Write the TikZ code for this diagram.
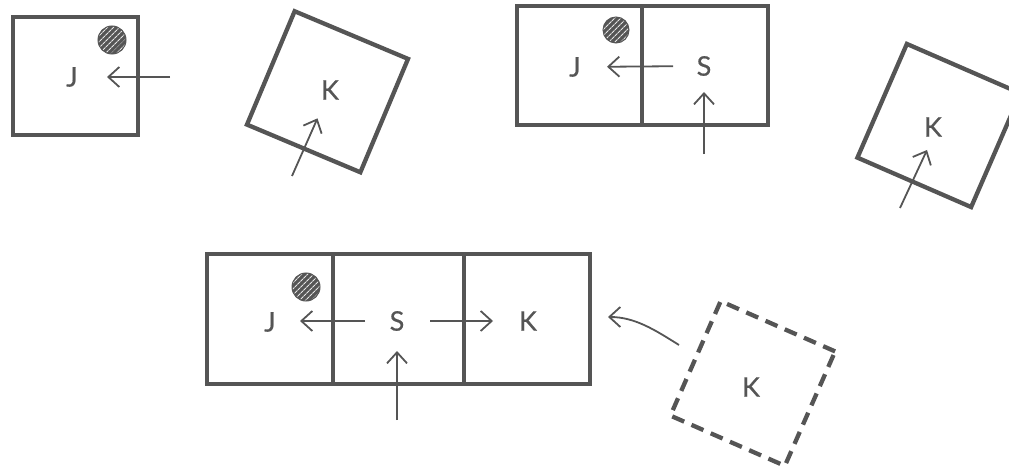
\documentclass[tikz,border=0pt]{standalone}
\usepackage{fontspec}
\setmainfont{Lato}[FakeBold=0.6]
\usetikzlibrary{arrows.meta,patterns.meta}
\definecolor{ink}{HTML}{555555}
\begin{document}
\begin{tikzpicture}[x=1pt,y=-1pt,
  box/.style={draw=ink, line width=4.3pt, inner sep=0pt, anchor=center, rectangle},
  dbox/.style={box, dash pattern=on 13pt off 8pt},
  lab/.style={text=ink, font=\fontsize{27}{27}\selectfont, inner sep=0pt, anchor=center},
  dot/.style={circle, draw=ink, line width=1pt, minimum size=#1, inner sep=0pt,
    preaction={fill=ink}, pattern={Lines[angle=45,distance=4pt,line width=1.1pt]},
    pattern color=white!85!ink},
  arr/.style={draw=ink, line width=1.8pt, -{Straight Barb[length=11pt,width=20pt,line width=1.8pt]}}
]
\useasboundingbox (0,0) rectangle (1009,476);

% ---- top left: J alone
\node[box, minimum width=125pt, minimum height=118pt] (tlbox) at (75.5,76) {};
\node[dot=28pt] (tldot) at (112,40) {};
\node[lab] (tlJ) at (72,77) {J};
\coordinate (tlin) at (170,77);
\draw[arr, shorten >=35pt] (tlin) -- (tlJ.center);

% ---- top: tilted K
\node[box, minimum size=123pt, rotate=-22.8] (k1box) at (327.5,91.75) {};
\node[lab] (k1K) at (330,90) {K};
\coordinate (k1in) at (292,176);
\draw[arr, shorten >=31pt] (k1in) -- (k1K.center);

% ---- top middle: J | S
\node[box, minimum width=125pt, minimum height=119pt] (tmJc) at (579.5,65.5) {};
\node[box, minimum width=126pt, minimum height=119pt] (tmSc) at (705,65.5) {};
\node[dot=26pt] (tmdot) at (616,30) {};
\node[lab] (tmJ) at (575,67) {J};
\node[lab] (tmS) at (704,66) {S};
\draw[arr, shorten <=31pt, shorten >=32pt] (tmS.center) -- (tmJ.center);
\coordinate (tmin) at (704,154);
\draw[arr, shorten >=26pt] (tmin) -- (tmS.center);

% ---- top right: tilted K
\node[box, minimum size=124pt, rotate=-23.5] (k2box) at (939,125.5) {};
\node[lab] (k2K) at (933,127) {K};
\coordinate (k2in) at (900,208);
\coordinate (k2tip) at (927,150);
\draw[arr] (k2in) -- (k2tip);

% ---- bottom: J | S | K
\node[box, minimum width=126pt, minimum height=130pt] (bJc) at (270,319) {};
\node[box, minimum width=131pt, minimum height=130pt] (bSc) at (398.5,319) {};
\node[box, minimum width=126pt, minimum height=130pt] (bKc) at (527,319) {};
\node[dot=28pt] (bdot) at (306,287) {};
\node[lab] (bJ) at (270,322) {J};
\node[lab] (bS) at (397,321) {S};
\node[lab] (bK) at (528,321) {K};
\draw[arr, shorten <=32pt, shorten >=30pt] (bS.center) -- (bJ.center |- bS.center);
\draw[arr, shorten <=33pt, shorten >=35pt] (bS.center) -- (bK.center);
\coordinate (bin) at (397,420);
\draw[arr, shorten >=30pt] (bin) -- (bS.center);

% ---- bottom right: dashed K
\node[dbox, minimum size=125pt, rotate=-23.7] (k3box) at (752.75,383.5) {};
\node[lab] (k3K) at (751,387) {K};
\coordinate (k3out) at (679,345);
\coordinate (k3tip) at (608,317);
\draw[arr] (k3out) .. controls (655,330) and (635,317) .. (k3tip);
\end{tikzpicture}
\end{document}
